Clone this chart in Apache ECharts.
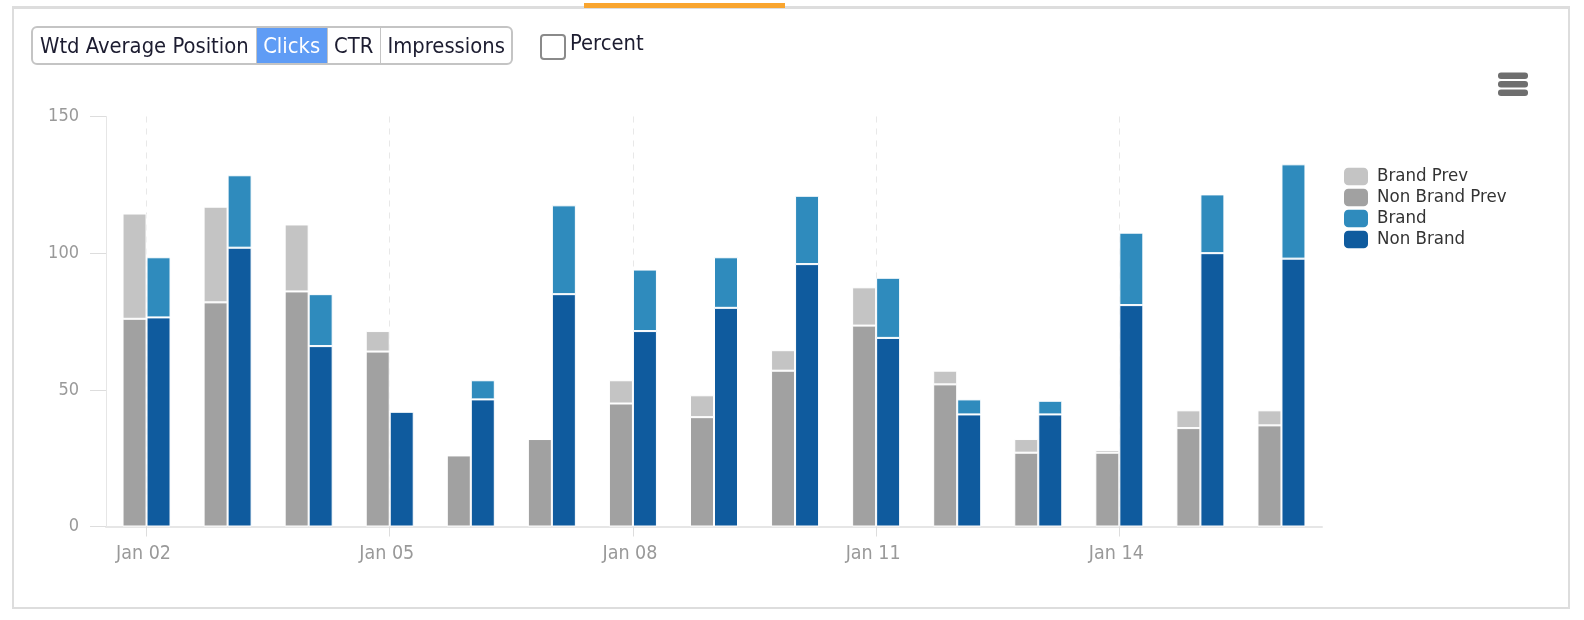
<!DOCTYPE html>
<html style="height: 100%">
<head>
<meta charset="utf-8">
<script src="https://cdn.jsdelivr.net/npm/echarts@6/dist/echarts.min.js"></script>
<style>
body { margin: 0; height: 100%; background: #fff; font-family: "DejaVu Sans Condensed", "DejaVu Sans", sans-serif; color: #1c1c30; overflow: hidden; }
#container { position: absolute; left: 0; top: 0; width: 1584px; height: 620px; }
#frame { position: absolute; left: 12px; top: 6px; width: 1554px; height: 598px; border: 2px solid #ddd; border-top-width: 3px; }
#tab { position: absolute; left: 584px; top: 3px; width: 201px; height: 5px; background: #f9a52f; }
#buttons { position: absolute; left: 31px; top: 26px; height: 35px; display: flex; border: 2px solid #c4c4c4; border-radius: 6px; overflow: hidden; font-size: 21.8px; line-height: 35px; background: #fff; }
#buttons div { padding: 0 6.5px; border-left: 1px solid #c4c4c4; }
#buttons div:first-child { border-left: 0; padding: 0 7px; }
#buttons div.on { background: #5f9cf5; color: #fff; }
#check { position: absolute; left: 540px; top: 34px; width: 22px; height: 22px; border: 2px solid #8a8a8a; border-radius: 4px; }
#percent { position: absolute; left: 570px; top: 29px; font-size: 21.8px; line-height: 28px; }
</style>
</head>
<body>
<div id="container"></div>
<div id="frame"></div>
<div id="tab"></div>
<div id="buttons"><div>Wtd Average Position</div><div class="on">Clicks</div><div>CTR</div><div>Impressions</div></div>
<div id="check"></div>
<div id="percent">Percent</div>
<script type="text/javascript">
var days = ['Jan 02', 'Jan 03', 'Jan 04', 'Jan 05', 'Jan 06', 'Jan 07', 'Jan 08', 'Jan 09', 'Jan 10', 'Jan 11', 'Jan 12', 'Jan 13', 'Jan 14', 'Jan 15', 'Jan 16'];
var nonBrandPrev = [76, 82, 86, 64, 26, 32, 45, 40, 57, 73.5, 52, 27, 27, 36, 37];
var brandPrev = [38.5, 35, 24.5, 7.5, 0, 0, 8.5, 8, 7.5, 14, 5, 5, 1, 6.5, 5.5];
var nonBrand = [76.5, 102, 66, 42, 46.5, 85, 71.5, 80, 96, 69, 41, 41, 81, 100, 98];
var brand = [22, 26.5, 19, 0, 7, 32.5, 22.5, 18.5, 25, 22, 5.5, 5, 26.5, 21.5, 34.5];

var labelFont = 'DejaVu Sans Condensed';

function bar(name, stack, data, color) {
    return {
        name: name,
        type: 'bar',
        stack: stack,
        data: data,
        barWidth: 24,
        barGap: 0,
        itemStyle: { color: color, borderColor: '#fff', borderWidth: 1 }
    };
}

var myChart = echarts.init(document.getElementById('container'));
var option = {
    animation: false,
    grid: { left: 106, right: 262, top: 116.5, bottom: 93.5 },
    legend: {
        left: 1339,
        top: 162,
        orient: 'vertical',
        icon: 'roundRect',
        itemWidth: 24,
        itemHeight: 17.5,
        itemGap: 2,
        itemStyle: { borderWidth: 0 },
        textStyle: { fontFamily: labelFont, fontSize: 18.5, lineHeight: 17, color: '#333', padding: [0, 0, 0, 4] },
        data: ['Brand Prev', 'Non Brand Prev', 'Brand', 'Non Brand']
    },
    xAxis: {
        type: 'category',
        data: days,
        axisLine: { lineStyle: { color: '#e6e6e6', width: 2 } },
        axisTick: { show: true, alignWithLabel: true, interval: 2, length: 10, lineStyle: { color: '#ddd', width: 1 } },
        axisLabel: { interval: 2, margin: 17, padding: [0, 6, 0, 0], fontFamily: labelFont, fontSize: 19.5, color: '#999' },
        splitLine: { show: true, alignWithLabel: true, interval: 2, lineStyle: { color: '#e8e8e8', width: 1, type: [6, 6] } }
    },
    yAxis: {
        type: 'value',
        min: 0,
        max: 150,
        interval: 50,
        axisLine: { show: true, lineStyle: { color: '#e6e6e6' } },
        axisTick: { show: true, length: 16, lineStyle: { color: '#ddd' } },
        axisLabel: { margin: 27, fontFamily: labelFont, fontSize: 18, color: '#999' },
        splitLine: { show: false }
    },
    series: [
        bar('Non Brand Prev', 'prev', nonBrandPrev, '#a1a1a1'),
        bar('Brand Prev', 'prev', brandPrev, '#c4c4c4'),
        bar('Non Brand', 'cur', nonBrand, '#0f5b9e'),
        bar('Brand', 'cur', brand, '#2f8bbd')
    ],
    graphic: [
        { type: 'rect', shape: { x: 1498, y: 72.5, width: 30, height: 6.5, r: 3 }, style: { fill: '#6e6e6e' } },
        { type: 'rect', shape: { x: 1498, y: 81, width: 30, height: 6.5, r: 3 }, style: { fill: '#6e6e6e' } },
        { type: 'rect', shape: { x: 1498, y: 89.5, width: 30, height: 6.5, r: 3 }, style: { fill: '#6e6e6e' } }
    ]
};
myChart.setOption(option);
</script>
</body>
</html>
